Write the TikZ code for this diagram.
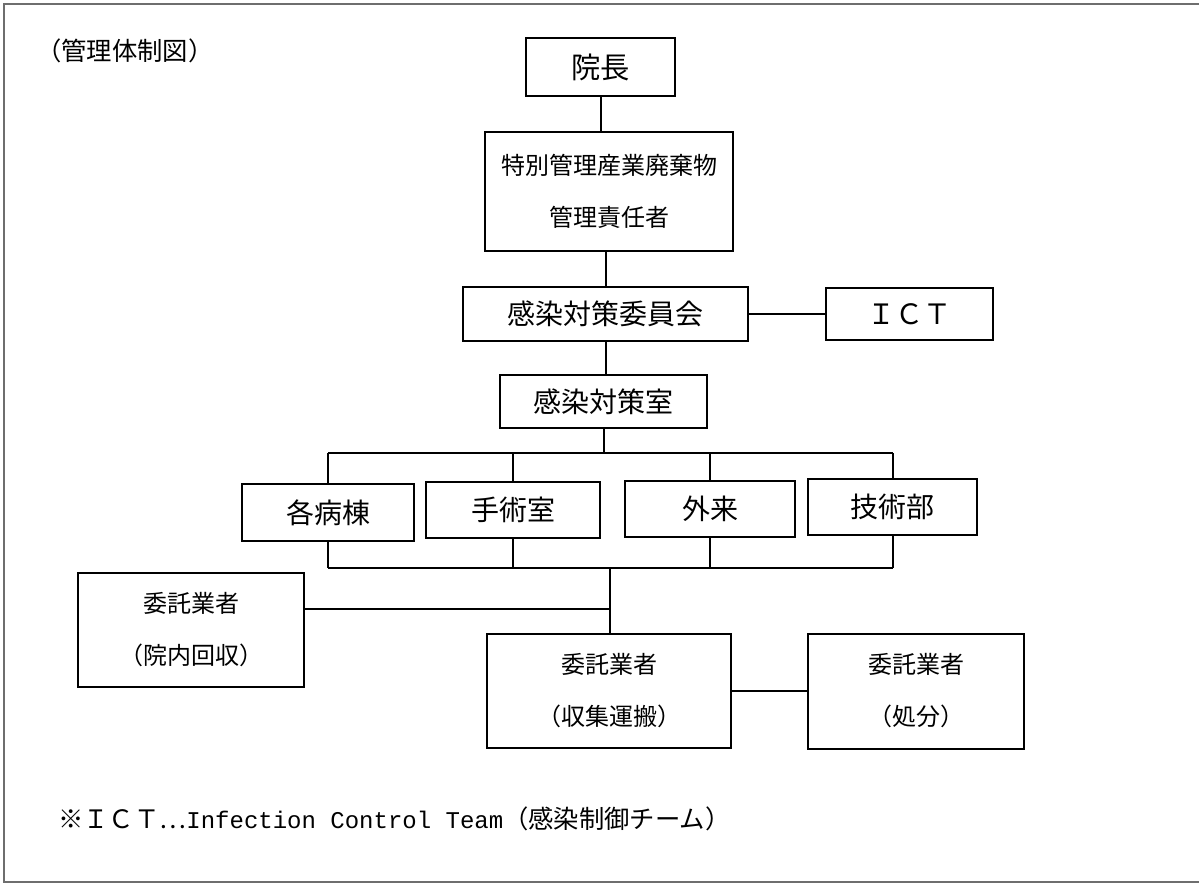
\documentclass[tikz,border=0pt]{standalone}
\usepackage{fontspec}
\setmainfont{Liberation Serif}
\setmonofont{Liberation Mono}
\newfontfamily\jp{Noto Sans CJK JP}
\tikzset{
  unit/.style={draw, line width=1.5pt, align=center, inner sep=0pt, font=\jp\fontsize{21}{25}\selectfont},
  twoline/.style={unit, font=\jp\fontsize{18}{39}\selectfont},
  link/.style={line width=1.5pt},
}
\begin{document}
\begin{tikzpicture}[x=0.75pt,y=0.75pt,yscale=-1]
\useasboundingbox (0,0) rectangle (1199,885);

% Frame
\draw [color={rgb, 255:red, 110; green, 110; blue, 110 }, line width=1.5pt] (1199,4) -- (4,4) -- (4,882) -- (1199,882);
\node (title) [anchor=west, inner sep=0pt, font=\jp\fontsize{19}{22}\selectfont] at (36,51) {（管理体制図）};

% Top of the tree
\node (incho)   [unit, minimum width=111.75pt, minimum height=43.5pt, font=\jp\fontsize{22}{26}\selectfont] at (600.5,67) {院長};
\node (sekinin) [twoline, minimum width=186pt, minimum height=89.25pt] at (609,191.5) {特別管理産業廃棄物\\管理責任者};
\node (iinkai)  [unit, minimum width=213.75pt, minimum height=40.5pt] at (605.5,314) {感染対策委員会};
\node (ict)     [unit, minimum width=125.25pt, minimum height=39pt] at (909.5,314) {ＩＣＴ};
\node (shitsu)  [unit, minimum width=155.25pt, minimum height=39.75pt] at (603.5,401.5) {感染対策室};

% Departments
\node (byoto)    [unit, minimum width=129pt, minimum height=42.75pt] at (328,512.5) {各病棟};
\node (shujutsu) [unit, minimum width=130.5pt, minimum height=42pt] at (513,510) {手術室};
\node (gairai)   [unit, minimum width=127.5pt, minimum height=42pt] at (710,509) {外来};
\node (gijutsu)  [unit, minimum width=126.75pt, minimum height=42pt] at (892.5,507) {技術部};

% Contractors
\node (innai)  [twoline, minimum width=169.5pt, minimum height=85.5pt] at (191,630) {委託業者\\（院内回収）};
\node (shushu) [twoline, minimum width=183pt, minimum height=85.5pt] at (609,691) {委託業者\\（収集運搬）};
\node (shobun) [twoline, minimum width=162pt, minimum height=86.25pt] at (916,691) {委託業者\\（処分）};

\coordinate (bt) at (607,453);
\coordinate (bb) at (610,568);
\coordinate (kk) at (610,609);

% Connectors
\draw [link] (incho.south) -- (incho.south |- sekinin.north);
\draw [link] (iinkai.north |- sekinin.south) -- (iinkai.north);
\draw [link] (iinkai) -- (ict);
\draw [link] (iinkai.south) -- (iinkai.south |- shitsu.north);
\draw [link] (shitsu.south) -- (shitsu.south |- bt);
\draw [link] (byoto.north |- bt) -- (gijutsu.north |- bt);
\foreach \d in {byoto, shujutsu, gairai, gijutsu} {
  \draw [link] (\d.north) -- (\d.north |- bt);
  \draw [link] (\d.south) -- (\d.south |- bb);
}
\draw [link] (byoto.south |- bb) -- (gijutsu.south |- bb);
\draw [link] (bb) -- (bb |- shushu.north);
\draw [link] (kk) -- (kk -| innai.east);
\draw [link] (shushu.east) -- (shushu.east -| shobun.west);

% Note
\node (note) [anchor=west, inner sep=0pt] at (58,819) {{\jp\fontsize{19}{22}\selectfont ※ＩＣＴ…}{\ttfamily\fontsize{18}{22}\selectfont Infection Control Team}{\jp\fontsize{19}{22}\selectfont （感染制御チーム）}};

\end{tikzpicture}
\end{document}
